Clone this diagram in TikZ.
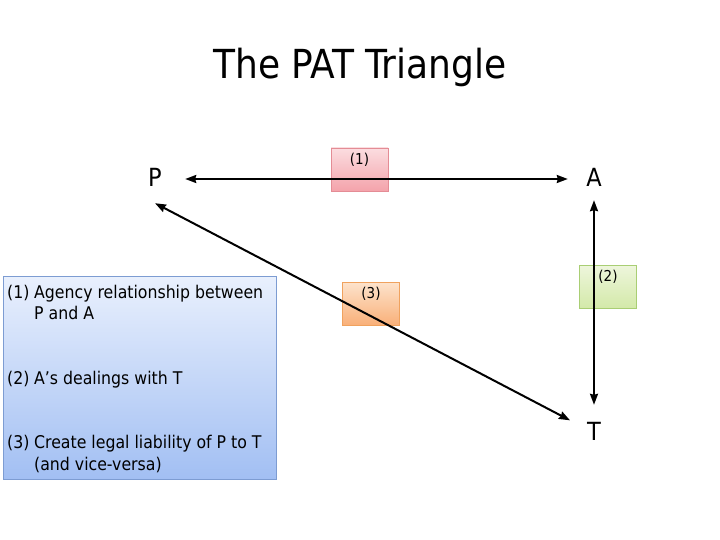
\documentclass[tikz,border=0pt]{standalone}
\usepackage{fontspec}
\setmainfont{DejaVu Sans Condensed}
\usetikzlibrary{arrows.meta,shadings}
\definecolor{pinkT}{HTML}{FBDDE0}
\definecolor{pinkB}{HTML}{F4A3AB}
\definecolor{pinkD}{HTML}{E48C95}
\definecolor{orgT}{HTML}{FDE3CC}
\definecolor{orgB}{HTML}{F9B079}
\definecolor{orgD}{HTML}{F0A25E}
\definecolor{grnT}{HTML}{EEF6DC}
\definecolor{grnB}{HTML}{D3E9A9}
\definecolor{grnD}{HTML}{A9CE74}
\definecolor{bluT}{HTML}{E9F0FD}
\definecolor{bluB}{HTML}{A2BFF3}
\definecolor{bluD}{HTML}{7D9CD2}
\tikzset{
  pt/.style={circle,minimum size=52pt,inner sep=0pt,font=\fontsize{25}{30}\selectfont},
  conn/.style={line width=2pt,{Stealth[length=11pt,width=8pt,inset=1pt]}-{Stealth[length=11pt,width=8pt,inset=1pt]}},
  numbox/.style={draw=#1D,top color=#1T,bottom color=#1B,line width=0.8pt,minimum width=57pt,minimum height=43pt,inner sep=0pt},
  numlbl/.style={font=\fontsize{15}{18}\selectfont},
  txt/.style={anchor=base west,inner sep=0pt,font=\fontsize{17.5}{21}\selectfont}
}
\begin{document}
\begin{tikzpicture}[x=1pt,y=-1pt]
\useasboundingbox (0,0) rectangle (720,540);
\node[font=\fontsize{40}{48}\selectfont] (title) at (360,67) {The PAT Triangle};
% numbered boxes
\node[numbox=pink] (b1) at (359.5,169.5) {};
\node[numlbl,anchor=north] (l1) at (b1.north) [yshift=-2pt] {(1)};
\node[numbox=org] (b3) at (371,303.5) {};
\node[numlbl,anchor=north] (l3) at (b3.north) [yshift=-2pt] {(3)};
\node[numbox=grn] (b2) at (608,286.5) {};
\node[numlbl,anchor=north] (l2) at (b2.north) [yshift=-2pt] {(2)};
% legend box
\node[draw=bluD,top color=bluT,bottom color=bluB,line width=0.8pt,minimum width=273pt,minimum height=203pt,inner sep=0pt] (leg) at (139.5,377.5) {};
\node[txt] (t1a) at (7,298) {(1)};
\node[txt] (t1b) at (34,298) {Agency relationship between};
\node[txt] (t1c) at (34,319) {P and A};
\node[txt] (t2a) at (7,384) {(2)};
\node[txt] (t2b) at (34,384) {A’s dealings with T};
\node[txt] (t3a) at (7,448) {(3)};
\node[txt] (t3b) at (34,448) {Create legal liability of P to T};
\node[txt] (t3c) at (34,470) {(and vice-versa)};
% vertices
\node[pt] (P) at (155,177) {P};
\node[pt] (A) at (594,177) {A};
\node[pt] (T) at (594,431) {T};
\draw[conn] ([xshift=4pt,yshift=-2pt]P.east) -- ([yshift=-2pt]A.west);
\draw[conn] ([yshift=3pt]A.south) -- (T.north);
\draw[conn] (P.south) -- (T.156);
\end{tikzpicture}
\end{document}
